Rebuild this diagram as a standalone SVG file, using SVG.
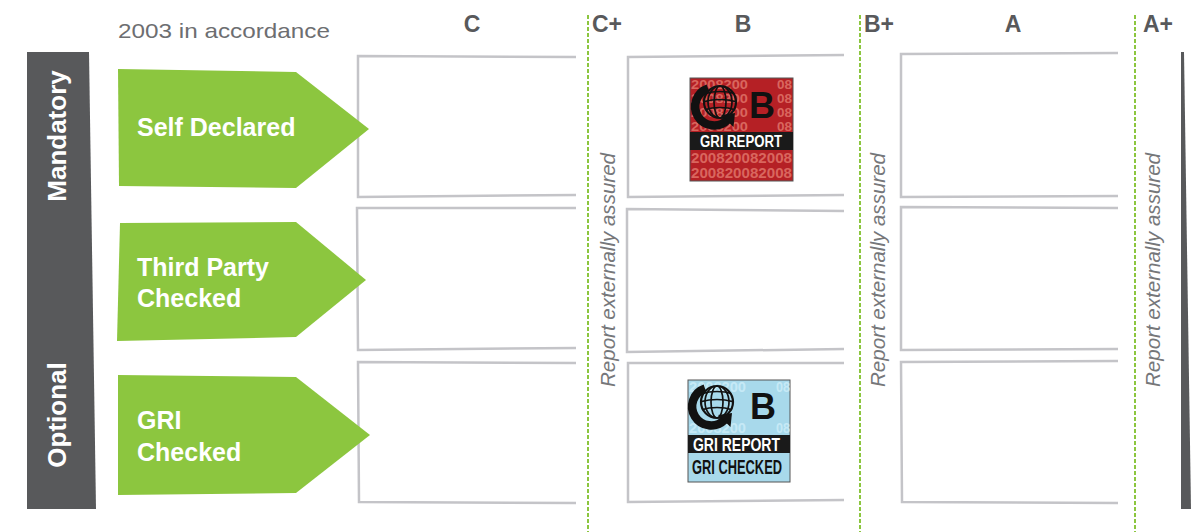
<svg xmlns="http://www.w3.org/2000/svg" width="1201" height="532" viewBox="0 0 1201 532">
<style>
.bar{fill:#58595b}
.arrow{fill:#8cc63f}
.box{fill:none;stroke:#c4c4c8;stroke-width:2.5}
.div{stroke:#8cc63f;stroke-width:2;stroke-dasharray:4 2;fill:none}
.lvl{font-family:"Liberation Sans",Arial,sans-serif;font-weight:700;font-size:23px;fill:#58595b}
.alab{font-family:"Liberation Sans",Arial,sans-serif;font-weight:700;font-size:25px;fill:#ffffff}
.side{font-family:"Liberation Sans",Arial,sans-serif;font-weight:700;font-size:26px;fill:#ffffff}
.assured{font-family:"Liberation Sans",Arial,sans-serif;font-style:italic;font-size:20px;fill:#76777a}
.acc{font-family:"Liberation Sans",Arial,sans-serif;font-size:21px;fill:#6d6e71}
.pat{font-family:"Liberation Sans",Arial,sans-serif;font-weight:700;font-size:14px}
.pat12{font-size:12px}
.band{font-family:"Liberation Sans",Arial,sans-serif;font-weight:700}
</style>
<defs>
<clipPath id="sph"><circle cx="26" cy="19" r="16"/></clipPath>
<g id="globe">
<g clip-path="url(#sph)" fill="none" stroke="#111" stroke-width="1.7">
<ellipse cx="26" cy="19" rx="6" ry="16"/>
<ellipse cx="26" cy="19" rx="12" ry="16"/>
<path d="M10 11 Q26 6 42 11 M9 19 Q26 14 43 19 M10 27 Q26 22 42 27"/>
</g>
<circle cx="26" cy="19" r="16" fill="none" stroke="#111" stroke-width="2.2"/>
<path d="M14 5.5 A19 19 0 1 0 33.5 37" fill="none" stroke="#111" stroke-width="8.5"/>
<polygon points="41,30 39.5,44 27,32" fill="#111"/>
</g>
</defs>
<rect width="1201" height="532" fill="#ffffff"/>

<g id="header">
<text class="acc" x="118" y="38" textLength="212" lengthAdjust="spacingAndGlyphs">2003 in accordance</text>
<text class="lvl" x="472" y="32" text-anchor="middle">C</text>
<text class="lvl" x="592" y="32">C+</text>
<text class="lvl" x="743" y="32" text-anchor="middle">B</text>
<text class="lvl" x="864" y="32">B+</text>
<text class="lvl" x="1013" y="32" text-anchor="middle">A</text>
<text class="lvl" x="1143" y="32">A+</text>
</g>

<g id="side-bar">
<polygon class="bar" points="27,52 89,52 96,509 27,509"/>
<text class="side" transform="translate(66,136) rotate(-90)" text-anchor="middle">Mandatory</text>
<text class="side" transform="translate(66,415) rotate(-90)" text-anchor="middle">Optional</text>
</g>

<g id="boxes">
<polyline class="box" points="576,57 358,56 358,197 576,195"/>
<polyline class="box" points="576,208 357,208 358,350 576,348"/>
<polyline class="box" points="576,363 358,362 359,502 576,503"/>
<polyline class="box" points="844,55 628,57 628,197 844,195"/>
<polyline class="box" points="844,211 627,209 627,352 844,349"/>
<polyline class="box" points="844,363 628,363 628,502 844,500"/>
<polyline class="box" points="1118,53 901,54 901,197 1118,196"/>
<polyline class="box" points="1118,208 901,207 901,350 1118,349"/>
<polyline class="box" points="1118,361 901,362 902,502 1118,503"/>
</g>

<g id="node-self-declared">
<polygon class="arrow" points="118,69 296,72 369,129 296,188 119,186"/>
<text class="alab" x="137" y="136">Self Declared</text>
</g>
<g id="node-third-party">
<polygon class="arrow" points="120,223 296,222 366,280 296,337 117,341"/>
<text class="alab" x="137" y="276">Third Party</text>
<text class="alab" x="137" y="307">Checked</text>
</g>
<g id="node-gri-checked">
<polygon class="arrow" points="118,375 296,377 370,435 296,493 118,495"/>
<text class="alab" x="137" y="429">GRI</text>
<text class="alab" x="137" y="461">Checked</text>
</g>

<g id="dividers">
<line class="div" x1="588" y1="15" x2="588" y2="532"/>
<line class="div" x1="860" y1="15" x2="860" y2="532"/>
<line class="div" x1="1135" y1="15" x2="1135" y2="532"/>
<text class="assured" transform="translate(615,387) rotate(-90)" textLength="234" lengthAdjust="spacingAndGlyphs">Report externally assured</text>
<text class="assured" transform="translate(885,387) rotate(-90)" textLength="234" lengthAdjust="spacingAndGlyphs">Report externally assured</text>
<text class="assured" transform="translate(1160,387) rotate(-90)" textLength="234" lengthAdjust="spacingAndGlyphs">Report externally assured</text>
<polygon class="bar" points="1181,52 1184,52 1191,509 1181,509"/>
</g>

<g id="logo-gri-report">
<rect x="690" y="78" width="103" height="103" fill="#b52025" stroke="#555" stroke-width="1"/>
<g class="pat" fill="#d9665e">
<text class="pat12" x="691" y="89" textLength="57" lengthAdjust="spacingAndGlyphs">2008200</text>
<text class="pat12" x="691" y="103" textLength="57" lengthAdjust="spacingAndGlyphs">2008200</text>
<text class="pat12" x="691" y="117" textLength="57" lengthAdjust="spacingAndGlyphs">2008200</text>
<text class="pat12" x="691" y="131" textLength="57" lengthAdjust="spacingAndGlyphs">2008200</text>
<text class="pat12" x="777" y="89" textLength="15" lengthAdjust="spacingAndGlyphs">08</text>
<text class="pat12" x="777" y="103" textLength="15" lengthAdjust="spacingAndGlyphs">08</text>
<text class="pat12" x="777" y="117" textLength="15" lengthAdjust="spacingAndGlyphs">08</text>
<text class="pat12" x="777" y="131" textLength="15" lengthAdjust="spacingAndGlyphs">08</text>
<text x="691" y="163" textLength="101" lengthAdjust="spacingAndGlyphs">200820082008</text>
<text x="691" y="178" textLength="101" lengthAdjust="spacingAndGlyphs">200820082008</text>
</g>
<use href="#globe" x="694" y="83"/>
<text class="band" x="749" y="118" font-size="36" fill="#111">B</text>
<rect x="690" y="132" width="103" height="18" fill="#1a1a1a"/>
<text class="band" x="700" y="147" font-size="16" fill="#ffffff" textLength="82" lengthAdjust="spacingAndGlyphs">GRI REPORT</text>
</g>

<g id="logo-gri-checked">
<rect x="688" y="380" width="102" height="102" fill="#a8d9eb" stroke="#555" stroke-width="1"/>
<g class="pat" fill="#c6e9f6">
<text x="689" y="392" textLength="57" lengthAdjust="spacingAndGlyphs">2008200</text>
<text x="689" y="433" textLength="57" lengthAdjust="spacingAndGlyphs">2008200</text>
<text x="776" y="392" textLength="14" lengthAdjust="spacingAndGlyphs">08</text>
<text x="776" y="433" textLength="14" lengthAdjust="spacingAndGlyphs">08</text>
</g>
<use href="#globe" x="691" y="383"/>
<text class="band" x="750" y="419" font-size="36" fill="#111">B</text>
<rect x="688" y="435" width="102" height="18" fill="#1a1a1a"/>
<text class="band" x="693" y="451" font-size="18" fill="#ffffff" textLength="87" lengthAdjust="spacingAndGlyphs">GRI REPORT</text>
<text class="band" x="692" y="474" font-size="20" fill="#111" textLength="90" lengthAdjust="spacingAndGlyphs">GRI CHECKED</text>
</g>
</svg>
